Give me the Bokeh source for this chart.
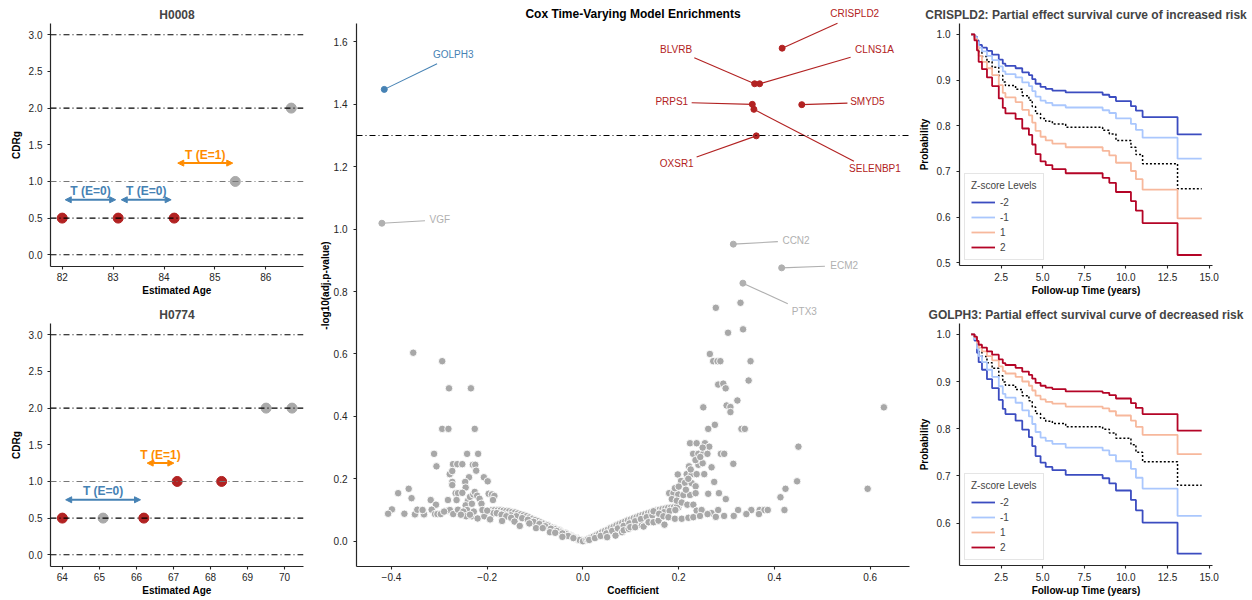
from bokeh.plotting import figure
from bokeh.layouts import row, column
from bokeh.models import (Range1d, FixedTicker, Span, Arrow, NormalHead, Label,
                          PrintfTickFormatter, CustomJSTickFormatter)
from bokeh.embed import file_html
from bokeh.resources import INLINE

FONT = "Liberation Sans"
RED = "#b22222"
GREY = "#a9a9a9"
BLUE = "#4682b4"
ORANGE = "#ff8c00"
AXC = "#262626"

# ---------------- data: example trajectories ----------------
h0008_age = [82.0, 83.1, 84.2, 85.4, 86.5]
h0008_cdr = [0.5, 0.5, 0.5, 1.0, 2.0]
h0008_event = [1, 1, 1, 0, 0]
h0008_int_start = [82.06, 83.16, 84.27]
h0008_int_end = [83.05, 84.14, 85.35]
h0008_int_level = [0.75, 0.75, 1.25]
h0008_int_label = ["T (E=0)", "T (E=0)", "T (E=1)"]

h0774_age = [64.0, 65.1, 66.2, 67.1, 68.3, 69.5, 70.2]
h0774_cdr = [0.5, 0.5, 0.5, 1.0, 1.0, 2.0, 2.0]
h0774_event = [1, 0, 1, 1, 1, 0, 0]
h0774_int_start = [64.09, 66.29]
h0774_int_end = [66.11, 67.01]
h0774_int_level = [0.75, 1.25]
h0774_int_label = ["T (E=0)", "T (E=1)"]

cdr_levels = [0.0, 0.5, 1.0, 2.0, 3.0]

# ---------------- data: volcano ----------------
left_cluster = [(-0.3545, 0.604), (-0.294, 0.577), (-0.2798, 0.49), (-0.234, 0.49), (-0.294, 0.36),
                (-0.281, 0.36), (-0.226, 0.36), (-0.311, 0.28), (-0.242, 0.28), (-0.219, 0.28),
                (-0.306, 0.24), (-0.2715, 0.247), (-0.2625, 0.247), (-0.252, 0.247), (-0.230, 0.245),
                (-0.225, 0.245), (-0.2783, 0.215), (-0.273, 0.225), (-0.238, 0.205), (-0.223, 0.226),
                (-0.207, 0.205), (-0.199, 0.192), (-0.273, 0.19), (-0.273, 0.18), (-0.246, 0.19),
                (-0.245, 0.172), (-0.386, 0.154), (-0.364, 0.168), (-0.358, 0.138), (-0.318, 0.132),
                (-0.307, 0.117), (-0.282, 0.132), (-0.266, 0.154), (-0.261, 0.154), (-0.252, 0.155),
                (-0.24, 0.13), (-0.236, 0.142), (-0.229, 0.15), (-0.226, 0.158), (-0.221, 0.146),
                (-0.216, 0.136), (-0.197, 0.152), (-0.19, 0.15), (-0.185, 0.145), (-0.188, 0.132),
                (-0.264, 0.132), (-0.245, 0.115), (-0.242, 0.1), (-0.232, 0.12), (-0.212, 0.12),
                (-0.399, 0.102), (-0.407, 0.088), (-0.373, 0.088), (-0.351, 0.086), (-0.346, 0.101),
                (-0.332, 0.086), (-0.316, 0.101), (-0.309, 0.087), (-0.304, 0.087), (-0.297, 0.087),
                (-0.285, 0.097), (-0.278, 0.1), (-0.271, 0.087), (-0.261, 0.101), (-0.25, 0.095),
                (-0.244, 0.08), (-0.232, 0.08), (-0.22, 0.073), (-0.206, 0.08), (-0.194, 0.07),
                (-0.21, 0.1), (-0.2, 0.098), (-0.228, 0.095), (-0.236, 0.085), (-0.255, 0.085),
                (-0.29, 0.095), (-0.335, 0.1)]
left_band = [(-0.196, 0.097), (-0.181, 0.095), (-0.169, 0.093), (-0.157, 0.091), (-0.145, 0.088),
             (-0.133, 0.084), (-0.121, 0.078), (-0.109, 0.072), (-0.097, 0.065), (-0.085, 0.058),
             (-0.073, 0.051), (-0.061, 0.043), (-0.049, 0.035), (-0.037, 0.026), (-0.025, 0.018),
             (-0.013, 0.01), (-0.004, 0.003),
             (-0.19, 0.1), (-0.184, 0.1), (-0.178, 0.099), (-0.172, 0.099), (-0.166, 0.098),
             (-0.16, 0.097), (-0.154, 0.096), (-0.148, 0.094), (-0.142, 0.092), (-0.136, 0.089),
             (-0.13, 0.086), (-0.124, 0.083), (-0.118, 0.08), (-0.112, 0.076), (-0.106, 0.072),
             (-0.1, 0.068), (-0.094, 0.064), (-0.088, 0.06), (-0.082, 0.056), (-0.076, 0.052),
             (-0.07, 0.047), (-0.064, 0.043), (-0.058, 0.039), (-0.052, 0.035), (-0.046, 0.03),
             (-0.04, 0.026), (-0.034, 0.022), (-0.028, 0.017), (-0.022, 0.013), (-0.016, 0.009),
             (-0.01, 0.005), (-0.187, 0.09), (-0.175, 0.088), (-0.163, 0.085), (-0.151, 0.083),
             (-0.139, 0.08), (-0.127, 0.074), (-0.115, 0.069), (-0.103, 0.062), (-0.091, 0.055),
             (-0.079, 0.048), (-0.067, 0.04), (-0.055, 0.033), (-0.043, 0.025), (-0.031, 0.017),
             (-0.019, 0.01), (-0.007, 0.004), (-0.18, 0.09), (-0.17, 0.085), (-0.16, 0.08),
             (-0.15, 0.075), (-0.169, 0.065), (-0.143, 0.063), (-0.132, 0.049), (-0.112, 0.057),
             (-0.098, 0.042), (-0.084, 0.042), (-0.069, 0.029), (-0.058, 0.027), (-0.043, 0.014),
             (-0.02, 0.01), (0.0, 0.0)]
right_band = [(0.007, 0.005), (0.019, 0.013), (0.031, 0.022), (0.043, 0.031), (0.055, 0.04),
              (0.067, 0.049), (0.079, 0.057), (0.091, 0.065), (0.103, 0.072), (0.115, 0.079),
              (0.127, 0.085), (0.139, 0.091), (0.151, 0.096), (0.163, 0.1), (0.175, 0.104),
              (0.187, 0.106), (0.199, 0.108),
              (0.01, 0.006), (0.016, 0.01), (0.022, 0.015), (0.028, 0.019), (0.034, 0.024),
              (0.04, 0.029), (0.046, 0.033), (0.052, 0.037), (0.058, 0.042), (0.064, 0.046),
              (0.07, 0.051), (0.076, 0.055), (0.082, 0.059), (0.088, 0.063), (0.094, 0.067),
              (0.1, 0.07), (0.106, 0.074), (0.112, 0.077), (0.118, 0.081), (0.124, 0.084),
              (0.13, 0.087), (0.136, 0.09), (0.142, 0.093), (0.148, 0.096), (0.154, 0.099),
              (0.16, 0.101), (0.166, 0.103), (0.172, 0.105), (0.178, 0.107), (0.184, 0.108),
              (0.19, 0.109), (0.196, 0.11), (0.013, 0.004), (0.025, 0.01), (0.037, 0.017),
              (0.049, 0.025), (0.061, 0.033), (0.073, 0.041), (0.085, 0.049), (0.097, 0.057),
              (0.109, 0.064), (0.121, 0.071), (0.133, 0.077), (0.145, 0.083), (0.157, 0.088),
              (0.169, 0.093), (0.181, 0.097), (0.193, 0.1), (0.0505, 0.013), (0.068, 0.018),
              (0.0817, 0.029), (0.0851, 0.035), (0.0955, 0.04), (0.0989, 0.045), (0.109, 0.045),
              (0.123, 0.05), (0.1266, 0.047), (0.137, 0.061), (0.1474, 0.061), (0.1578, 0.066),
              (0.1702, 0.053)]
right_cluster = [(0.2775, 0.748), (0.329, 0.764), (0.303, 0.668), (0.3344, 0.679), (0.265, 0.6),
                 (0.272, 0.577), (0.281, 0.577), (0.287, 0.577), (0.35, 0.577), (0.2824, 0.502),
                 (0.293, 0.505), (0.298, 0.49), (0.346, 0.515), (0.3225, 0.451), (0.2513, 0.429),
                 (0.3, 0.435), (0.308, 0.43), (0.308, 0.414), (0.6285, 0.429), (0.2616, 0.36),
                 (0.2755, 0.373), (0.331, 0.36), (0.338, 0.36), (0.2236, 0.314), (0.2374, 0.314),
                 (0.2547, 0.314), (0.2637, 0.303), (0.23, 0.28), (0.241, 0.28), (0.251, 0.28),
                 (0.26, 0.28), (0.288, 0.28), (0.295, 0.28), (0.45, 0.303), (0.2215, 0.24),
                 (0.241, 0.245), (0.25, 0.25), (0.2686, 0.237), (0.314, 0.248), (0.198, 0.214),
                 (0.2166, 0.215), (0.227, 0.215), (0.2374, 0.215), (0.2533, 0.215), (0.2741, 0.19),
                 (0.4472, 0.192), (0.2048, 0.193), (0.213, 0.187), (0.227, 0.186), (0.2353, 0.176),
                 (0.423, 0.168), (0.5946, 0.168), (0.18, 0.154), (0.189, 0.154), (0.199, 0.15),
                 (0.2097, 0.148), (0.2236, 0.148), (0.2353, 0.154), (0.2616, 0.152), (0.284, 0.154),
                 (0.4125, 0.141), (0.2983, 0.135), (0.1855, 0.135), (0.196, 0.13), (0.2063, 0.124),
                 (0.218, 0.117), (0.2305, 0.117), (0.2374, 0.098), (0.2478, 0.1), (0.2686, 0.09),
                 (0.2824, 0.1), (0.324, 0.1), (0.3516, 0.1), (0.369, 0.1), (0.379, 0.1),
                 (0.386, 0.1), (0.4208, 0.1), (0.2775, 0.078), (0.2948, 0.081), (0.3149, 0.081),
                 (0.3412, 0.087), (0.3675, 0.087), (0.1474, 0.096), (0.159, 0.088), (0.168, 0.08),
                 (0.1785, 0.077), (0.192, 0.072), (0.2063, 0.072), (0.2202, 0.075), (0.2305, 0.077),
                 (0.2444, 0.081), (0.2602, 0.087), (0.192, 0.17), (0.2, 0.175), (0.215, 0.165),
                 (0.22, 0.2), (0.225, 0.23), (0.235, 0.26), (0.245, 0.27), (0.25, 0.3)]

hl_gene = ["GOLPH3", "VGF", "CRISPLD2", "BLVRB", "CLNS1A", "PRPS1", "SMYD5", "SELENBP1",
           "OXSR1", "CCN2", "ECM2", "PTX3"]
hl_coef = [-0.415, -0.420, 0.416, 0.3585, 0.369, 0.3537, 0.457, 0.357, 0.362, 0.314, 0.415, 0.334]
hl_nlp = [1.448, 1.019, 1.58, 1.466, 1.466, 1.40, 1.399, 1.384, 1.299, 0.952, 0.876, 0.827]
hl_group = ["down", "ns", "up", "up", "up", "up", "up", "up", "up", "ns", "ns", "ns"]
hl_label_x = [-0.271, -0.299, 0.5676, 0.1945, 0.609, 0.1855, 0.594, 0.6098, 0.1958, 0.445, 0.5455, 0.4624]
hl_label_y = [1.559, 1.03, 1.69, 1.576, 1.576, 1.409, 1.409, 1.195, 1.21, 0.963, 0.885, 0.737]
hl_line_x = [-0.3047, -0.33, 0.5316, 0.2325, 0.559, 0.227, 0.5524, 0.566, 0.2374, 0.407, 0.5053, 0.4278]
hl_line_y = [1.53, 1.027, 1.66, 1.549, 1.551, 1.405, 1.404, 1.218, 1.231, 0.96, 0.881, 0.761]
sig_threshold = 1.3
volcano_title = "Cox Time-Varying Model Enrichments"

# ---------------- data: survival curves ----------------
surv_t = [0.7, 0.9, 1.05, 1.15, 1.35, 1.65, 1.96, 2.36, 2.6, 2.76, 3.37, 3.77, 4.17, 4.37,
          4.57, 4.87, 5.18, 5.58, 6.38, 8.6, 9.0, 9.4, 10.3, 10.6, 11.0, 13.1, 14.55]
z_levels = ["-2", "-1", "1", "2"]

cr_m2 = [1.0, 0.995, 0.987, 0.977, 0.971, 0.964, 0.956, 0.945, 0.936, 0.931, 0.926, 0.917, 0.911, 0.902,
         0.892, 0.885, 0.881, 0.877, 0.873, 0.868, 0.863, 0.854, 0.843, 0.833, 0.819, 0.781, 0.781]
cr_m1 = [1.0, 0.994, 0.983, 0.971, 0.963, 0.953, 0.944, 0.930, 0.919, 0.913, 0.906, 0.895, 0.887, 0.876,
         0.864, 0.855, 0.850, 0.845, 0.840, 0.834, 0.828, 0.816, 0.804, 0.791, 0.774, 0.728, 0.728]
cr_base = [1.0, 0.992, 0.978, 0.962, 0.952, 0.940, 0.928, 0.910, 0.896, 0.888, 0.880, 0.866, 0.856, 0.842,
           0.827, 0.816, 0.810, 0.804, 0.797, 0.790, 0.782, 0.768, 0.753, 0.737, 0.717, 0.662, 0.662]
cr_p1 = [1.0, 0.990, 0.973, 0.953, 0.940, 0.926, 0.911, 0.889, 0.872, 0.862, 0.852, 0.835, 0.823, 0.807,
         0.789, 0.776, 0.768, 0.761, 0.753, 0.745, 0.735, 0.719, 0.701, 0.683, 0.660, 0.597, 0.597]
cr_p2 = [1.0, 0.987, 0.965, 0.940, 0.924, 0.906, 0.887, 0.860, 0.839, 0.827, 0.815, 0.794, 0.780, 0.759,
         0.738, 0.722, 0.714, 0.705, 0.696, 0.686, 0.675, 0.655, 0.635, 0.614, 0.587, 0.517, 0.517]

go_m2 = [1.0, 0.987, 0.961, 0.941, 0.925, 0.905, 0.886, 0.861, 0.842, 0.831, 0.817, 0.798, 0.782, 0.763,
         0.742, 0.728, 0.719, 0.712, 0.702, 0.695, 0.684, 0.669, 0.649, 0.627, 0.601, 0.535, 0.535]
go_m1 = [1.0, 0.990, 0.970, 0.954, 0.941, 0.925, 0.910, 0.890, 0.874, 0.866, 0.855, 0.839, 0.826, 0.810,
         0.793, 0.781, 0.774, 0.768, 0.760, 0.754, 0.744, 0.731, 0.715, 0.696, 0.673, 0.615, 0.615]
go_base = [1.0, 0.992, 0.976, 0.963, 0.953, 0.940, 0.928, 0.912, 0.899, 0.892, 0.883, 0.870, 0.859, 0.846,
           0.832, 0.822, 0.816, 0.811, 0.804, 0.799, 0.791, 0.780, 0.766, 0.750, 0.730, 0.680, 0.680]
go_p1 = [1.0, 0.994, 0.982, 0.972, 0.964, 0.954, 0.945, 0.932, 0.922, 0.917, 0.910, 0.900, 0.891, 0.881,
         0.870, 0.862, 0.857, 0.853, 0.847, 0.843, 0.837, 0.828, 0.817, 0.804, 0.787, 0.746, 0.746]
go_p2 = [1.0, 0.995, 0.986, 0.978, 0.972, 0.964, 0.957, 0.947, 0.939, 0.935, 0.929, 0.921, 0.914, 0.906,
         0.897, 0.891, 0.887, 0.884, 0.879, 0.876, 0.871, 0.864, 0.854, 0.844, 0.831, 0.796, 0.796]

Z_COLORS = ["#3b4cc0", "#aac7fd", "#f7b89c", "#b40426"]


def style(p, xls, xas, yls, yas):
    p.outline_line_color = None
    p.xgrid.grid_line_color = None
    p.ygrid.grid_line_color = None
    for ax in p.axis:
        ax.axis_line_color = AXC
        ax.axis_line_width = 1.2
        ax.major_tick_line_color = AXC
        ax.major_tick_line_width = 1.1
        ax.major_tick_out = 3
        ax.major_tick_in = 0
        ax.minor_tick_line_color = None
        ax.major_label_text_font = FONT
        ax.major_label_text_font_size = "10px"
        ax.major_label_text_color = AXC
        ax.axis_label_text_font = FONT
        ax.axis_label_text_font_size = "10px"
        ax.axis_label_text_font_style = "bold"
        ax.axis_label_text_color = "black"
    p.xaxis.major_label_standoff = xls
    p.xaxis.axis_label_standoff = xas
    p.yaxis.major_label_standoff = yls
    p.yaxis.axis_label_standoff = yas
    if p.title is not None:
        p.title.text_font = FONT
        p.title.text_font_size = "12px"
        p.title.text_font_style = "bold"
        p.title.align = "center"
        p.title.standoff = 3


def traj_fig(title, ages, cdr, events, starts, ends, levels, labels, xr, xticks):
    p = figure(width=316, height=300, title=title, x_range=Range1d(*xr),
               y_range=Range1d(-0.16, 3.154), output_backend="svg", toolbar_location=None,
               min_border_left=50, min_border_right=13, min_border_top=23, min_border_bottom=34)
    style(p, 3, 1, 5, 4)
    colors = [RED if e else "#aaaaaa" for e in events]
    p.scatter(ages, cdr, size=10, fill_color=colors, line_color=colors)
    for lvl in cdr_levels:
        p.add_layout(Span(location=lvl, dimension="width",
                          line_color="#777777" if lvl == 1.0 else "black",
                          line_width=1.1, line_dash="6 3 1 3"))
    for a, b, lv, lab in zip(starts, ends, levels, labels):
        c = ORANGE if "E=1" in lab else BLUE
        p.add_layout(Arrow(start=NormalHead(size=6, fill_color=c, line_color=c),
                           end=NormalHead(size=6, fill_color=c, line_color=c),
                           x_start=a, y_start=lv, x_end=b, y_end=lv,
                           line_color=c, line_width=2))
        p.add_layout(Label(x=(a + b) / 2, y=lv + 0.115, text=lab, text_align="center",
                           text_baseline="middle", text_font=FONT, text_font_size="12px",
                           text_font_style="bold", text_color=c))
    p.xaxis.ticker = FixedTicker(ticks=xticks)
    p.yaxis.ticker = FixedTicker(ticks=[0, 0.5, 1.0, 1.5, 2.0, 2.5, 3.0])
    p.yaxis.formatter = PrintfTickFormatter(format="%.1f")
    p.xaxis.axis_label = "Estimated Age"
    p.yaxis.axis_label = "CDRg"
    return p


p1 = traj_fig("H0008", h0008_age, h0008_cdr, h0008_event, h0008_int_start, h0008_int_end,
              h0008_int_level, h0008_int_label, (81.77, 86.74), [82, 83, 84, 85, 86])
p2 = traj_fig("H0774", h0774_age, h0774_cdr, h0774_event, h0774_int_start, h0774_int_end,
              h0774_int_level, h0774_int_label, (63.68, 70.51), [64, 65, 66, 67, 68, 69, 70])

# ---------------- volcano ----------------
VX = (-0.473, 0.682)
VY_AXIS = (-0.081, 1.659)
p3 = figure(width=599, height=600, x_range=Range1d(*VX), y_range=Range1d(-0.081, 1.72),
            output_backend="svg", toolbar_location=None,
            min_border_left=37, min_border_right=6, min_border_top=4, min_border_bottom=34)
style(p3, 3, 1, 6, 0)
p3.yaxis.bounds = VY_AXIS
all_pts = left_band + right_band + left_cluster + right_cluster
p3.scatter([q[0] for q in all_pts], [q[1] for q in all_pts], size=7.5,
           fill_color="#a8a8a8", line_color="white", line_width=0.9)
p3.add_layout(Span(location=sig_threshold, dimension="width", line_color="black",
                   line_width=1.1, line_dash="6 3 1 3"))
hl_colors = [BLUE if g == "down" else (RED if g == "up" else "#b0b0b0") for g in hl_group]
p3.segment(hl_coef, hl_nlp, hl_line_x, hl_line_y, line_color=hl_colors, line_width=1.1)
p3.scatter(hl_coef, hl_nlp, size=6, fill_color=hl_colors, line_color=hl_colors)
for g, lx, ly, c in zip(hl_gene, hl_label_x, hl_label_y, hl_colors):
    p3.add_layout(Label(x=lx, y=ly, text=g, text_align="center", text_baseline="middle",
                        text_font=FONT, text_font_size="10px", text_color=c))
p3.add_layout(Label(x=(VX[0] + VX[1]) / 2, y=1.688, text=volcano_title, text_align="center",
                    text_baseline="middle", text_font=FONT, text_font_size="12px",
                    text_font_style="bold", text_color="black"))
p3.xaxis.ticker = FixedTicker(ticks=[-0.4, -0.2, 0.0, 0.2, 0.4, 0.6])
p3.xaxis.formatter = CustomJSTickFormatter(code="return tick.toFixed(1).replace('-', '\\u2212');")
p3.yaxis.ticker = FixedTicker(ticks=[0.0, 0.2, 0.4, 0.6, 0.8, 1.0, 1.2, 1.4, 1.6])
p3.yaxis.formatter = PrintfTickFormatter(format="%.1f")
p3.xaxis.axis_label = "Coefficient"
p3.yaxis.axis_label = "-log10(adj.p-value)"


# ---------------- survival ----------------
def surv_fig(title, curves, base, yr, yticks):
    p = figure(width=337, height=300, title=title, x_range=Range1d(0.0, 15.2),
               y_range=Range1d(*yr), output_backend="svg", toolbar_location=None,
               min_border_left=44, min_border_right=40, min_border_top=23, min_border_bottom=35)
    style(p, 4, 1, 6, 4)
    p.step(surv_t, base, mode="after", line_color="black", line_width=1.5, line_dash="2 2")
    for lab, ys, c in zip(z_levels, curves, Z_COLORS):
        p.step(surv_t, ys, mode="after", line_color=c, line_width=1.8, legend_label=lab)
    p.xaxis.ticker = FixedTicker(ticks=[2.5, 5.0, 7.5, 10.0, 12.5, 15.0])
    p.xaxis.formatter = PrintfTickFormatter(format="%.1f")
    p.yaxis.ticker = FixedTicker(ticks=yticks)
    p.yaxis.formatter = PrintfTickFormatter(format="%.1f")
    p.xaxis.axis_label = "Follow-up Time (years)"
    p.yaxis.axis_label = "Probability"
    lg = p.legend[0]
    lg.location = "bottom_left"
    lg.title = "Z-score Levels"
    lg.title_text_font = FONT
    lg.title_text_font_size = "10px"
    lg.title_text_font_style = "normal"
    lg.label_text_font = FONT
    lg.label_text_font_size = "10px"
    lg.glyph_width = 24
    lg.glyph_height = 12
    lg.label_height = 12
    lg.spacing = 3
    lg.padding = 6
    lg.margin = 5
    lg.border_line_color = "#cccccc"
    lg.background_fill_alpha = 0.9
    return p


p4 = surv_fig("CRISPLD2: Partial effect survival curve of increased risk",
              [cr_m2, cr_m1, cr_p1, cr_p2], cr_base, (0.494, 1.024),
              [0.5, 0.6, 0.7, 0.8, 0.9, 1.0])
p5 = surv_fig("GOLPH3: Partial effect survival curve of decreased risk",
              [go_m2, go_m1, go_p1, go_p2], go_base, (0.51, 1.023),
              [0.6, 0.7, 0.8, 0.9, 1.0])

layout = row(column(p1, p2), p3, column(p4, p5))
with open("out.html", "w", encoding="utf-8") as f:
    f.write(file_html(layout, INLINE))
